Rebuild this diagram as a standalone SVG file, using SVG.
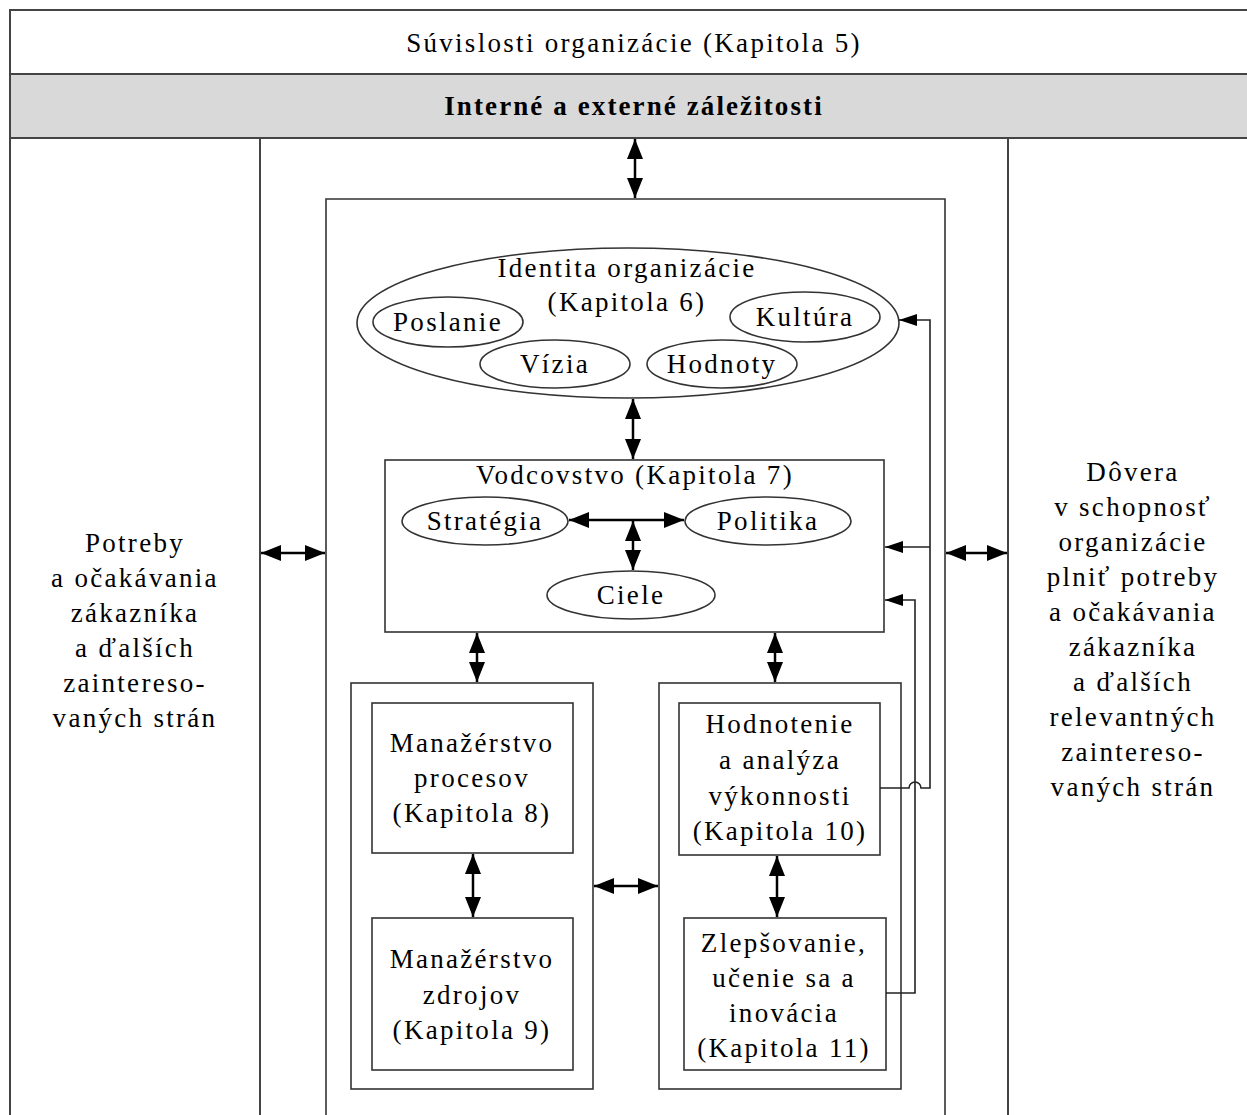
<svg xmlns="http://www.w3.org/2000/svg" width="1247" height="1115" viewBox="0 0 1247 1115">
<style>
text{font-family:"Liberation Serif","Times New Roman",serif;font-size:27px;letter-spacing:2.3px;fill:#000;text-anchor:middle}
.b{font-weight:bold;letter-spacing:2.1px}
.box{fill:none;stroke:#333;stroke-width:1.6}
.frame{fill:none;stroke:#444;stroke-width:2}
.gray{fill:#d9d9d9;stroke:#444;stroke-width:2}
.ell{fill:#fff;stroke:#333;stroke-width:1.6}
.con{fill:none;stroke:#000;stroke-width:2.5}
.fb{fill:none;stroke:#222;stroke-width:1.6}
</style>
<defs>
<marker id="ah" markerUnits="userSpaceOnUse" markerWidth="22" markerHeight="16" refX="20" refY="8" orient="auto-start-reverse"><path d="M0,0 L20,8 L0,16 Z" fill="#000"/></marker>
<marker id="ahs" markerUnits="userSpaceOnUse" markerWidth="20" markerHeight="12" refX="18" refY="6" orient="auto"><path d="M0,0 L18,6 L0,12 Z" fill="#000"/></marker>
</defs>
<rect width="1247" height="1115" fill="#fff"/>

<g id="context">
<rect x="10" y="10" width="1250" height="64" class="frame"/>
<text x="634" y="52">Súvislosti organizácie (Kapitola 5)</text>
</g>
<g id="issues">
<rect x="10" y="74" width="1250" height="64" class="gray"/>
<text x="634" y="115" class="b">Interné a externé záležitosti</text>
</g>
<g id="needs">
<path d="M10,138 V1120 M260,138 V1120" class="frame"/>
<text x="135" y="552">Potreby</text>
<text x="135" y="587">a očakávania</text>
<text x="135" y="622">zákazníka</text>
<text x="135" y="657">a ďalších</text>
<text x="135" y="692">zaintereso-</text>
<text x="135" y="727">vaných strán</text>
</g>
<g id="trust">
<path d="M1008,138 V1120" class="frame"/>
<text x="1133" y="481">Dôvera</text>
<text x="1133" y="516">v schopnosť</text>
<text x="1133" y="551">organizácie</text>
<text x="1133" y="586">plniť potreby</text>
<text x="1133" y="621">a očakávania</text>
<text x="1133" y="656">zákazníka</text>
<text x="1133" y="691">a ďalších</text>
<text x="1133" y="726">relevantných</text>
<text x="1133" y="761">zaintereso-</text>
<text x="1133" y="796">vaných strán</text>
</g>
<g id="main">
<path d="M326,1120 V199 H945 V1120" class="box"/>
</g>
<g id="identity">
<ellipse cx="628" cy="323" rx="271" ry="75" class="ell"/>
<text x="627" y="277">Identita organizácie</text>
<text x="627" y="311">(Kapitola 6)</text>
</g>
<g id="poslanie"><ellipse cx="448" cy="322" rx="75" ry="25" class="ell"/><text x="448" y="331">Poslanie</text></g>
<g id="kultura"><ellipse cx="805" cy="317" rx="75" ry="25" class="ell"/><text x="805" y="326">Kultúra</text></g>
<g id="vizia"><ellipse cx="555" cy="364" rx="75" ry="24" class="ell"/><text x="555" y="373">Vízia</text></g>
<g id="hodnoty"><ellipse cx="722" cy="364" rx="75" ry="24" class="ell"/><text x="722" y="373">Hodnoty</text></g>
<g id="leadership">
<rect x="385" y="460" width="499" height="172" class="box"/>
<text x="635" y="484">Vodcovstvo (Kapitola 7)</text>
</g>
<g id="strategia"><ellipse cx="485" cy="521" rx="83" ry="24" class="ell"/><text x="485" y="530">Stratégia</text></g>
<g id="politika"><ellipse cx="768" cy="521" rx="83" ry="24" class="ell"/><text x="768" y="530">Politika</text></g>
<g id="ciele"><ellipse cx="631" cy="595" rx="84" ry="24" class="ell"/><text x="631" y="604">Ciele</text></g>
<g id="leftgroup"><rect x="351" y="683" width="242" height="406" class="box"/></g>
<g id="procesy">
<rect x="372" y="703" width="201" height="150" class="box"/>
<text x="472" y="752">Manažérstvo</text>
<text x="472" y="787">procesov</text>
<text x="472" y="822">(Kapitola 8)</text>
</g>
<g id="zdroje">
<rect x="372" y="918" width="201" height="152" class="box"/>
<text x="472" y="968">Manažérstvo</text>
<text x="472" y="1004">zdrojov</text>
<text x="472" y="1039">(Kapitola 9)</text>
</g>
<g id="rightgroup"><rect x="659" y="683" width="242" height="406" class="box"/></g>
<g id="hodnotenie">
<rect x="679" y="703" width="201" height="152" class="box"/>
<text x="780" y="733">Hodnotenie</text>
<text x="780" y="769">a analýza</text>
<text x="780" y="805">výkonnosti</text>
<text x="780" y="840">(Kapitola 10)</text>
</g>
<g id="zlepsovanie">
<rect x="684" y="918" width="202" height="152" class="box"/>
<text x="784" y="952">Zlepšovanie,</text>
<text x="784" y="987">učenie sa a</text>
<text x="784" y="1022">inovácia</text>
<text x="784" y="1057">(Kapitola 11)</text>
</g>
<g id="connectors">
<path d="M635,139 V198" class="con" marker-start="url(#ah)" marker-end="url(#ah)"/>
<path d="M261,553 H325" class="con" marker-start="url(#ah)" marker-end="url(#ah)"/>
<path d="M946,553 H1007" class="con" marker-start="url(#ah)" marker-end="url(#ah)"/>
<path d="M633,399 V459" class="con" marker-start="url(#ah)" marker-end="url(#ah)"/>
<path d="M569,520 H684" class="con" marker-start="url(#ah)" marker-end="url(#ah)"/>
<path d="M633,521 V570" class="con" marker-start="url(#ah)" marker-end="url(#ah)"/>
<path d="M477,633 V682" class="con" marker-start="url(#ah)" marker-end="url(#ah)"/>
<path d="M775,633 V682" class="con" marker-start="url(#ah)" marker-end="url(#ah)"/>
<path d="M473,854 V917" class="con" marker-start="url(#ah)" marker-end="url(#ah)"/>
<path d="M777,856 V917" class="con" marker-start="url(#ah)" marker-end="url(#ah)"/>
<path d="M594,886 H658" class="con" marker-start="url(#ah)" marker-end="url(#ah)"/>
<path d="M880,788 H909 A6,6 0 0 1 921,788 H930 V320 H899" class="fb" marker-end="url(#ahs)"/>
<path d="M930,547 H885" class="fb" marker-end="url(#ahs)"/>
<path d="M886,993 H915 V600 H885" class="fb" marker-end="url(#ahs)"/>
</g>
</svg>
